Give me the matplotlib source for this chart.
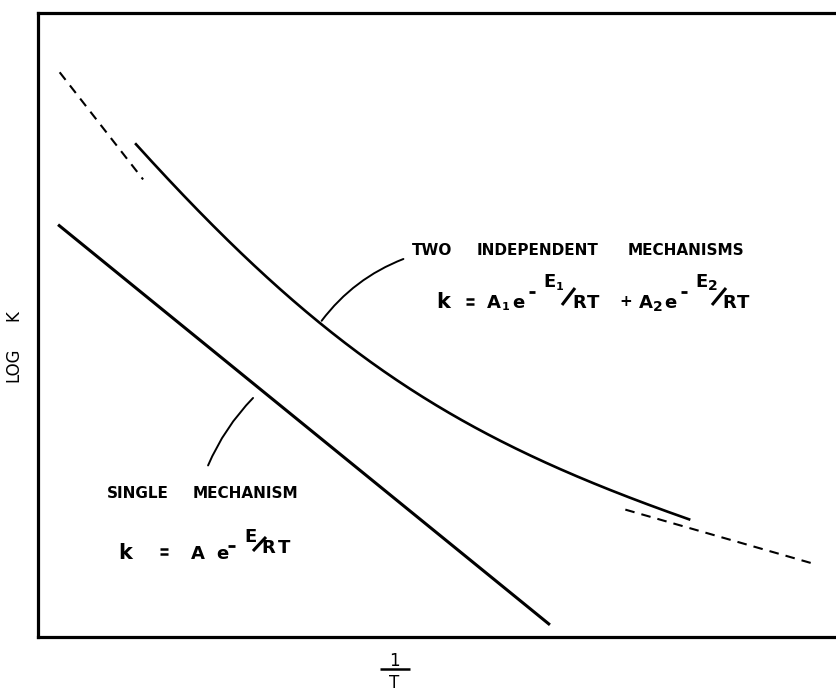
import numpy as np
import matplotlib
matplotlib.use("Agg")
import matplotlib.pyplot as plt
from matplotlib.patches import FancyArrowPatch
from matplotlib.lines import Line2D

W, H = 837, 691

# Arrhenius parameters (ln A and E/R in arbitrary schematic units)
single_lnA, single_ER = 3.27, 0.498
mech1_lnA, mech1_ER = 4.52, 0.786
mech2_lnA, mech2_ER = 2.26, 0.176

# 1/T spans drawn for each line
single_span = [0.25, 6.38]
combined_span = [1.21, 8.13]
mech1_dash_span = [0.27, 1.31]
mech2_dash_span = [7.32, 9.63]

x_limits = [0, 10.12]
y_limits = [0, 4.76]

plt.rcParams['font.family'] = ['DejaVu Sans']

fig = plt.figure(figsize=(W / 100, H / 100), dpi=100)
ax = fig.add_axes([38 / W, 1 - 637 / H, (850 - 38) / W, (637 - 13) / H])
ax.set_xlim(*x_limits)
ax.set_ylim(*y_limits)
ax.set_xticks([])
ax.set_yticks([])
for side in ('left', 'top', 'bottom'):
    ax.spines[side].set_linewidth(2.3)
ax.spines['right'].set_visible(False)


def ln_k(lnA, ER, x):
    return lnA - ER * x


# single mechanism
xs = np.linspace(*single_span, 50)
ax.plot(xs, ln_k(single_lnA, single_ER, xs), color='black', lw=2.2,
        solid_capstyle='butt')

# two independent mechanisms: k = A1 exp(-E1/RT) + A2 exp(-E2/RT)
xc = np.linspace(*combined_span, 300)
yc = np.logaddexp(ln_k(mech1_lnA, mech1_ER, xc), ln_k(mech2_lnA, mech2_ER, xc))
ax.plot(xc, yc, color='black', lw=1.9, solid_capstyle='butt')

# asymptotes of the individual terms
x1 = np.linspace(*mech1_dash_span, 50)
ax.plot(x1, ln_k(mech1_lnA, mech1_ER, x1), color='black', lw=1.5,
        dashes=(4.6, 3.4))
x2 = np.linspace(*mech2_dash_span, 50)
ax.plot(x2, ln_k(mech2_lnA, mech2_ER, x2), color='black', lw=1.5,
        dashes=(4.6, 3.4))


def fx(px):
    return px / W


def fy(py):
    return 1 - py / H


def put(px, py, s, size=11, weight='bold', ha='left', va='baseline', **kw):
    fig.text(fx(px), fy(py), s, fontsize=size, fontweight=weight,
             ha=ha, va=va, **kw)


def stroke(x0, y0, x1, y1, lw=2.0):
    fig.add_artist(Line2D([fx(x0), fx(x1)], [fy(y0), fy(y1)],
                          color='black', lw=lw, solid_capstyle='butt'))


# leader lines
fig.patches.append(FancyArrowPatch((fx(320), fy(323)), (fx(406), fy(258)),
                                   transform=fig.transFigure, arrowstyle='-',
                                   connectionstyle='arc3,rad=-0.15',
                                   lw=1.4, color='black'))
fig.patches.append(FancyArrowPatch((fx(207), fy(468)), (fx(255), fy(396)),
                                   transform=fig.transFigure, arrowstyle='-',
                                   connectionstyle='arc3,rad=-0.1',
                                   lw=1.4, color='black'))

# labels for the two-mechanism curve
hs = 11
put(412, 255, 'TWO', size=hs)
put(477, 255, 'INDEPENDENT', size=hs)
put(628, 255, 'MECHANISMS', size=hs)

fs = 13
put(436, 308, 'k', size=15)
stroke(466, 299, 474, 299, lw=1.8)
stroke(466, 304, 474, 304, lw=1.8)
put(487, 308, 'A', size=fs)
put(502, 310, '1', size=8)
put(512, 308, 'e', size=fs)
stroke(529, 292, 535, 292)
put(543, 287, 'E', size=fs)
put(556, 290, '1', size=8)
stroke(562, 305, 575, 288, lw=2.2)
put(572, 308, 'R', size=fs)
put(587, 308, 'T', size=fs)
put(619, 306, '+', size=11)
put(639, 308, 'A', size=fs)
put(653, 311, '2', size=10)
put(664, 308, 'e', size=fs)
stroke(681, 292, 687, 292)
put(695, 287, 'E', size=fs)
put(708, 290, '2', size=10)
stroke(712, 305, 726, 288, lw=2.2)
put(722, 308, 'R', size=fs)
put(737, 308, 'T', size=fs)

# labels for the single-mechanism line
put(107, 498, 'SINGLE', size=hs)
put(193, 498, 'MECHANISM', size=hs)
put(118, 559, 'k', size=15)
stroke(160, 549, 168, 549, lw=1.8)
stroke(160, 554, 168, 554, lw=1.8)
put(191, 559, 'A', size=fs)
put(216, 559, 'e', size=fs)
stroke(228, 546, 235, 546)
put(244, 542, 'E', size=fs)
stroke(253, 551, 266, 537, lw=2.2)
put(261, 553, 'R', size=fs)
put(278, 553, 'T', size=fs)

# axis titles
fig.text(fx(13), fy(316), 'K', rotation=90, fontsize=12,
         ha='center', va='center')
fig.text(fx(13), fy(365), 'LOG', rotation=90, fontsize=12,
         ha='center', va='center')
put(394, 666, '1', size=12, weight='normal', ha='center')
stroke(380, 669, 410, 669, lw=1.8)
put(394, 688, 'T', size=12, weight='normal', ha='center')

fig.savefig('out.png', dpi=100)
